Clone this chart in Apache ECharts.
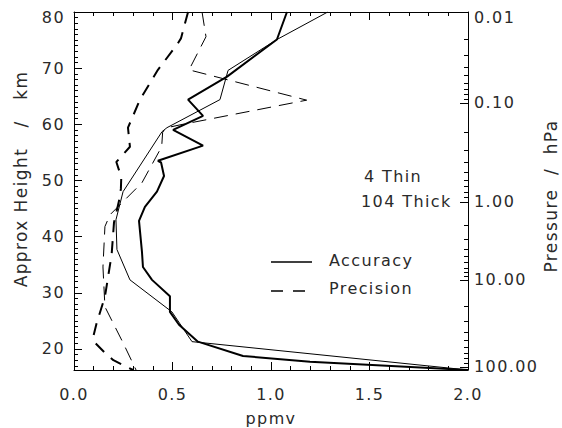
<!DOCTYPE html>
<html>
<head>
<meta charset="utf-8">
<script src="https://cdn.jsdelivr.net/npm/echarts@6/dist/echarts.min.js"></script>
<style>
  html, body { margin: 0; padding: 0; background: #fff; }
  #chart { width: 562px; height: 428px; }
  #chart text { letter-spacing: 1.4px; white-space: pre; }
</style>
</head>
<body>
<div id="chart"></div>
<script>
// Accuracy (solid) and precision (dashed) profiles, ppmv against approximate height (km)
const thickAccPpmv = [1.081, 1.030, 0.777, 0.579, 0.655, 0.503, 0.655, 0.426, 0.442, 0.457, 0.421, 0.360, 0.330, 0.345, 0.350, 0.396, 0.487, 0.487, 0.533, 0.629, 0.858, 1.198, 2.0];
const thickAccKm   = [80.0, 75.1, 68.5, 64.4, 61.5, 59.0, 56.2, 53.5, 53.2, 50.8, 48.0, 45.3, 42.8, 37.3, 34.6, 32.3, 29.4, 26.6, 24.3, 21.3, 18.75, 17.7, 16.25];

const thinAccPpmv = [1.288, 1.030, 0.782, 0.741, 0.472, 0.447, 0.249, 0.213, 0.218, 0.284, 0.497, 0.599, 2.0];
const thinAccKm   = [80.0, 75.1, 69.6, 64.4, 59.4, 58.7, 48.0, 43.0, 37.7, 32.3, 26.6, 21.3, 16.25];

const thickPrecPpmv = [0.579, 0.543, 0.523, 0.426, 0.335, 0.274, 0.284, 0.215, 0.240, 0.238, 0.230, 0.203, 0.191, 0.157, 0.115, 0.098, 0.107, 0.157, 0.200, 0.300];
const thickPrecKm   = [80.0, 75.3, 74.2, 69.7, 64.4, 59.4, 56.0, 53.3, 50.6, 48.5, 46.6, 42.5, 36.8, 29.3, 24.6, 22.2, 21.1, 19.3, 18.0, 16.25];

const thinPrecPpmv = [0.650, 0.670, 0.584, 1.181, 0.538, 0.472, 0.450, 0.445, 0.345, 0.183, 0.157, 0.147, 0.157, 0.249, 0.315];
const thinPrecKm   = [80.0, 75.6, 69.7, 64.3, 59.9, 59.4, 58.6, 56.0, 49.6, 43.9, 41.8, 34.6, 27.5, 21.1, 16.25];

// Height axis ticks (km)
const heightTicks = [20, 30, 40, 50, 60, 70, 80];
// Pressure axis: decade labels and the approximate heights they sit at
const pressureValues = [0.01, 0.1, 1, 10, 100];
const pressureLabels = ['0.01', '0.10', '1.00', '10.00', '100.00'];
const pressureKm = [80.0, 63.8, 46.2, 32.3, 16.8];

const xTicks = ['0.0', '0.5', '1.0', '1.5', '2.0'];

const KM_MIN = 16.25, KM_MAX = 80;

function pairs(xs, ys) { return xs.map((x, i) => [x, ys[i]]); }

// minor km ticks every 1 km
const kmMinor = [];
for (let k = 17; k < 80; k++) if (k % 10 !== 0) kmMinor.push(k);

// minor pressure ticks (2..9 within each decade), placed by log interpolation between decade heights
const presMinor = [];
for (let i = 0; i < pressureKm.length - 1; i++) {
  for (let m = 2; m <= 9; m++) {
    presMinor.push(pressureKm[i] + (pressureKm[i + 1] - pressureKm[i]) * Math.log10(m));
  }
}
const presMajorAsc = pressureKm.slice().sort((a, b) => a - b);

const FONT = 'DejaVu Sans';
const FS = 16;
const TXT = '#2a2a2a';
const chart = echarts.init(document.getElementById('chart'), null, { renderer: 'svg' });

const yBase = { type: 'value', min: KM_MIN, max: KM_MAX, splitLine: { show: false } };
const tickStyle = { color: '#000', width: 1 };
const labelRich = { top: { padding: [10, 0, 0, 0], fontFamily: FONT, fontSize: FS, color: TXT } };

chart.setOption({
  animation: false,
  backgroundColor: '#fff',
  textStyle: { fontFamily: FONT, color: TXT },
  grid: { left: 74, top: 12, width: 394, height: 358, containLabel: false, outerBoundsMode: 'none' },
  xAxis: [
    {
      type: 'value', position: 'bottom', min: 0, max: 2, interval: 0.5,
      name: 'ppmv', nameLocation: 'middle', nameGap: 40,
      nameTextStyle: { fontFamily: FONT, fontSize: FS, color: TXT },
      axisLine: { show: true, lineStyle: { color: '#000', width: 1 } },
      axisTick: { show: true, inside: true, length: 8, lineStyle: tickStyle },
      minorTick: { show: true, splitNumber: 5, length: 4, lineStyle: tickStyle },
      axisLabel: { show: true, margin: 16, fontFamily: FONT, fontSize: FS, color: TXT,
        formatter: v => xTicks[Math.round(v / 0.5)] },
      splitLine: { show: false }
    },
    {
      type: 'value', position: 'top', min: 0, max: 2, interval: 0.5,
      axisLine: { show: true, lineStyle: { color: '#000', width: 1 } },
      axisTick: { show: true, inside: true, length: 8, lineStyle: tickStyle },
      minorTick: { show: true, splitNumber: 5, length: 4, lineStyle: tickStyle },
      axisLabel: { show: false },
      splitLine: { show: false }
    }
  ],
  yAxis: [
    Object.assign({}, yBase, {
      position: 'left',
      name: 'Approx Height   /   km', nameLocation: 'middle', nameGap: 45, nameRotate: 90,
      nameTextStyle: { fontFamily: FONT, fontSize: 17, color: TXT, padding: [0, 0, 0, 24] },
      axisLine: { show: true, lineStyle: { color: '#000', width: 1 } },
      axisTick: { show: true, inside: true, length: 8, customValues: heightTicks, lineStyle: tickStyle },
      axisLabel: { show: true, customValues: heightTicks, margin: 9, fontFamily: FONT, fontSize: FS, color: TXT,
        rich: labelRich,
        formatter: v => (v === KM_MAX ? '{top|' + v + '}' : String(v)) }
    }),
    Object.assign({}, yBase, {
      position: 'left',
      axisLine: { show: false },
      axisTick: { show: true, inside: true, length: 4, customValues: kmMinor, lineStyle: tickStyle },
      axisLabel: { show: false }
    }),
    Object.assign({}, yBase, {
      position: 'right',
      name: 'Pressure  /  hPa', nameLocation: 'middle', nameGap: 74, nameRotate: 90,
      nameTextStyle: { fontFamily: FONT, fontSize: 17, color: TXT, padding: [0, 10, 0, 0] },
      axisLine: { show: true, lineStyle: { color: '#000', width: 1 } },
      axisTick: { show: true, inside: true, length: 8, customValues: presMajorAsc, lineStyle: tickStyle },
      axisLabel: { show: true, customValues: presMajorAsc, margin: 6, fontFamily: FONT, fontSize: FS, color: TXT,
        rich: labelRich,
        formatter: v => {
          let best = 0;
          pressureKm.forEach((h, i) => { if (Math.abs(h - v) < Math.abs(pressureKm[best] - v)) best = i; });
          return best === 0 ? '{top|' + pressureLabels[best] + '}' : pressureLabels[best];
        } }
    }),
    Object.assign({}, yBase, {
      position: 'right',
      axisLine: { show: false },
      axisTick: { show: true, inside: true, length: 4, customValues: presMinor, lineStyle: tickStyle },
      axisLabel: { show: false }
    })
  ],
  graphic: [
    // legend samples
    { type: 'line', shape: { x1: 271, y1: 262, x2: 312, y2: 262 }, style: { stroke: '#000', lineWidth: 1.6 } },
    { type: 'line', shape: { x1: 271, y1: 291, x2: 312, y2: 291 }, style: { stroke: '#000', lineWidth: 1.3, lineDash: [12, 10] } },
    { type: 'text', x: 329, y: 260, style: { text: 'Accuracy', fontFamily: FONT, fontSize: FS, fill: TXT, textAlign: 'left', textVerticalAlign: 'middle' } },
    { type: 'text', x: 329, y: 288, style: { text: 'Precision', fontFamily: FONT, fontSize: FS, fill: TXT, textAlign: 'left', textVerticalAlign: 'middle' } },
    // profile counts
    { type: 'text', x: 364, y: 176, style: { text: '4 Thin', fontFamily: FONT, fontSize: FS, fill: TXT, textAlign: 'left', textVerticalAlign: 'middle' } },
    { type: 'text', x: 361, y: 201, style: { text: '104 Thick', fontFamily: FONT, fontSize: FS, fill: TXT, textAlign: 'left', textVerticalAlign: 'middle' } }
  ],
  series: [
    { name: 'Accuracy', type: 'line', data: pairs(thickAccPpmv, thickAccKm), symbol: 'none',
      lineStyle: { color: '#000', width: 2 }, clip: true, z: 3 },
    { name: 'Accuracy', type: 'line', data: pairs(thinAccPpmv, thinAccKm), symbol: 'none',
      lineStyle: { color: '#000', width: 1 }, clip: true, z: 2 },
    { name: 'Precision', type: 'line', data: pairs(thickPrecPpmv, thickPrecKm), symbol: 'none',
      lineStyle: { color: '#000', width: 2, type: [12, 9] }, clip: true, z: 3 },
    { name: 'Precision', type: 'line', data: pairs(thinPrecPpmv, thinPrecKm), symbol: 'none',
      lineStyle: { color: '#000', width: 1, type: [14, 8] }, clip: true, z: 2 }
  ]
});
</script>
</body>
</html>
